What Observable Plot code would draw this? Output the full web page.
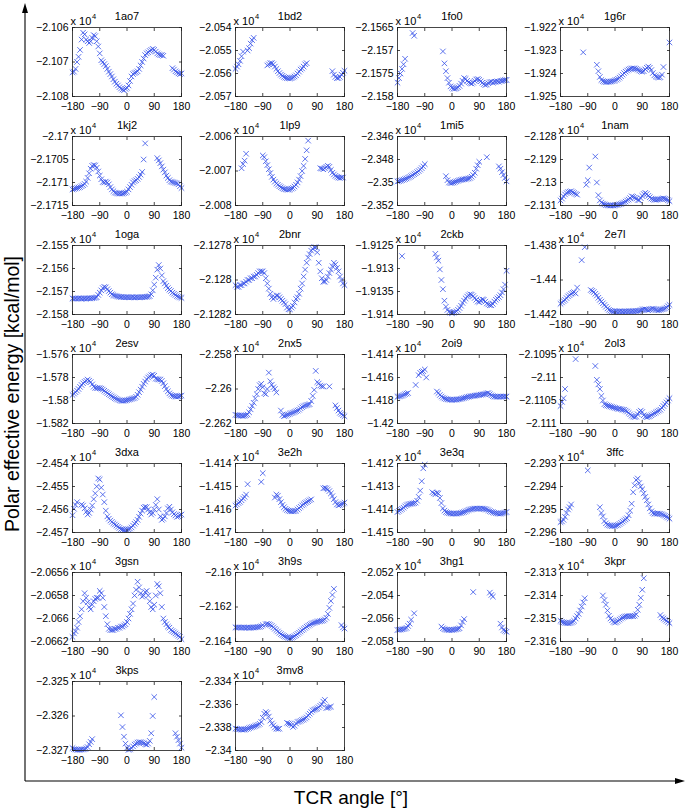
<!DOCTYPE html>
<html><head><meta charset="utf-8">
<script src="https://cdn.jsdelivr.net/npm/d3@7"></script>
<script src="https://cdn.jsdelivr.net/npm/@observablehq/plot@0.6"></script>
<style>
body{margin:0;background:#fff;}
#chart{position:relative;width:687px;height:810px;background:#fff;font-family:"Liberation Sans",Arial,sans-serif;overflow:hidden;}
.panel{position:absolute;}
#deco{position:absolute;left:0;top:0;}
</style></head><body>
<div id="chart">
<svg id="deco" width="687" height="810">
<line x1="25" y1="781" x2="25" y2="12" stroke="#000" stroke-width="1.1"/>
<path d="M25,3 L22,13 L28,13 Z" fill="#000"/>
<line x1="25" y1="781" x2="676" y2="781" stroke="#000" stroke-width="1.1"/>
<path d="M685,781 L675,778 L675,784 Z" fill="#000"/>
<text transform="translate(12,394) rotate(-90)" text-anchor="middle" dominant-baseline="central" font-size="19.5" font-family="Liberation Sans, Arial, sans-serif">Polar effective energy [kcal/mol]</text>
<text x="351" y="804" text-anchor="middle" font-size="19" font-family="Liberation Sans, Arial, sans-serif">TCR angle [°]</text>
</svg>
</div>
<script>
const _ = null;
const angles = [-180,-175,-170,-165,-160,-155,-150,-145,-140,-135,-130,-125,
 -120,-115,-110,-105,-100,-95,-90,-85,-80,-75,-70,-65,
 -60,-55,-50,-45,-40,-35,-30,-25,-20,-15,-10,-5,
 0,5,10,15,20,25,30,35,40,45,50,55,
 60,65,70,75,80,85,90,95,100,105,110,115,
 120,125,130,135,140,145,150,155,160,165,170,175,
 180];
const xTicks = [-180,-90,0,90,180];
const names = ["1ao7","1bd2","1fo0","1g6r","1kj2","1lp9","1mi5","1nam","1oga","2bnr","2ckb","2e7l","2esv","2nx5","2oi9","2ol3","3dxa","3e2h","3e3q","3ffc","3gsn","3h9s","3hg1","3kpr","3kps","3mv8"];
const yTicks = [
 [-2.108,-2.107,-2.106],
 [-2.057,-2.056,-2.055,-2.054],
 [-2.158,-2.1575,-2.157,-2.1565],
 [-1.925,-1.924,-1.923,-1.922],
 [-2.1715,-2.171,-2.1705,-2.17],
 [-2.008,-2.007,-2.006],
 [-2.352,-2.35,-2.348,-2.346],
 [-2.131,-2.13,-2.129,-2.128],
 [-2.158,-2.157,-2.156,-2.155],
 [-2.1282,-2.128,-2.1278],
 [-1.914,-1.9135,-1.913,-1.9125],
 [-1.442,-1.44,-1.438],
 [-1.582,-1.58,-1.578,-1.576],
 [-2.262,-2.26,-2.258],
 [-1.42,-1.418,-1.416,-1.414],
 [-2.111,-2.1105,-2.11,-2.1095],
 [-2.457,-2.456,-2.455,-2.454],
 [-1.417,-1.416,-1.415,-1.414],
 [-1.415,-1.414,-1.413,-1.412],
 [-2.296,-2.295,-2.294,-2.293],
 [-2.0662,-2.066,-2.0658,-2.0656],
 [-2.164,-2.162,-2.16],
 [-2.058,-2.056,-2.054,-2.052],
 [-2.316,-2.315,-2.314,-2.313],
 [-2.327,-2.326,-2.325],
 [-2.34,-2.338,-2.336,-2.334]
];

const e1ao7 = [-2.10730,-2.10728,-2.10720,-2.10700,-2.10685,-2.10665,-2.10635,-2.10615,-2.10620,-2.10635,-2.10640,-2.10645,
 -2.10640,-2.10630,-2.10622,-2.10625,-2.10640,-2.10655,-2.10675,-2.10695,-2.10700,-2.10706,-2.10712,-2.10720,
 -2.10728,-2.10735,-2.10742,-2.10750,-2.10757,-2.10763,-2.10768,-2.10773,-2.10777,-2.10780,-2.10782,-2.10778,
 -2.10775,-2.10768,-2.10755,-2.10742,-2.10735,-2.10732,-2.10730,-2.10727,-2.10720,-2.10710,-2.10700,-2.10690,
 -2.10680,-2.10675,-2.10672,-2.10668,-2.10665,-2.10662,-2.10665,-2.10670,-2.10675,-2.10678,-2.10680,-2.10680,
 -2.10682,_,_,_,_,_,-2.10718,-2.10722,-2.10727,-2.10730,-2.10733,-2.10735,
 -2.10733];
const e1bd2 = [-2.05580,-2.05570,-2.05560,-2.05545,-2.05525,-2.05505,_,_,-2.05500,-2.05490,-2.05470,-2.05455,
 -2.05445,_,_,_,_,_,_,_,_,-2.05565,-2.05560,-2.05555,
 -2.05555,-2.05560,-2.05570,-2.05580,-2.05590,-2.05598,-2.05605,-2.05610,-2.05615,-2.05618,-2.05620,-2.05621,
 -2.05621,-2.05620,-2.05617,-2.05613,-2.05608,-2.05600,-2.05592,-2.05583,-2.05578,-2.05570,-2.05560,-2.05555,
 _,_,_,_,_,_,_,_,_,_,_,_,
 _,_,_,_,-2.05590,-2.05605,-2.05615,-2.05620,-2.05620,-2.05615,-2.05605,-2.05597,
 -2.05588];
const e1fo0 = [-2.15770,-2.15760,-2.15750,-2.15740,-2.15730,-2.15718,_,_,_,_,-2.15662,-2.15668,
 _,_,_,_,_,_,_,_,_,_,_,_,
 _,_,_,_,_,_,-2.15702,-2.15728,-2.15745,-2.15760,-2.15770,-2.15778,
 -2.15781,-2.15783,-2.15783,-2.15782,-2.15780,-2.15777,-2.15772,-2.15766,-2.15760,-2.15762,-2.15766,-2.15769,
 -2.15771,-2.15772,-2.15770,-2.15766,-2.15763,-2.15762,-2.15764,-2.15767,-2.15770,-2.15773,-2.15775,-2.15774,
 -2.15771,-2.15769,-2.15768,-2.15770,-2.15768,-2.15768,-2.15767,-2.15768,-2.15766,-2.15766,-2.15765,-2.15764,
 -2.15764];
const e1g6r = [_,_,_,_,_,_,_,_,_,_,_,_,
 _,_,_,-1.92308,_,_,_,_,_,_,_,_,
 -1.92362,-1.92390,-1.92415,-1.92428,-1.92433,-1.92436,-1.92437,-1.92437,-1.92436,-1.92435,-1.92434,-1.92432,
 -1.92430,-1.92427,-1.92423,-1.92418,-1.92412,-1.92405,-1.92398,-1.92392,-1.92387,-1.92383,-1.92380,-1.92378,
 -1.92378,-1.92378,-1.92380,-1.92383,-1.92387,-1.92390,-1.92392,-1.92390,-1.92382,-1.92375,-1.92370,-1.92375,
 -1.92385,-1.92398,-1.92408,-1.92413,-1.92416,-1.92418,-1.92416,-1.92405,-1.92372,_,_,_,
 -1.92265];
const e1kj2 = [-2.17115,-2.17114,-2.17113,-2.17112,-2.17111,-2.17110,-2.17108,-2.17106,-2.17103,-2.17098,-2.17090,-2.17080,
 -2.17070,-2.17064,-2.17062,-2.17063,-2.17068,-2.17076,-2.17085,-2.17093,-2.17099,-2.17100,-2.17098,-2.17100,
 -2.17104,-2.17110,-2.17115,-2.17119,-2.17122,-2.17123,-2.17124,-2.17124,-2.17124,-2.17124,-2.17123,-2.17122,
 -2.17120,-2.17115,-2.17110,-2.17105,-2.17100,-2.17097,-2.17095,-2.17092,-2.17088,-2.17083,-2.17077,-2.17050,
 -2.17015,_,_,_,_,_,_,_,-2.17047,-2.17052,-2.17058,-2.17065,
 -2.17072,-2.17078,-2.17085,-2.17090,-2.17095,-2.17098,-2.17099,-2.17100,-2.17101,-2.17102,-2.17104,-2.17108,
 -2.17112];
const e1lp9 = [_,_,_,_,-2.00692,-2.00680,-2.00670,-2.00650,_,_,_,_,
 _,_,_,_,_,_,-2.00655,-2.00660,-2.00672,-2.00683,-2.00695,-2.00706,
 -2.00717,-2.00725,-2.00731,-2.00736,-2.00740,-2.00744,-2.00747,-2.00750,-2.00752,-2.00753,-2.00754,-2.00754,
 -2.00753,-2.00751,-2.00749,-2.00745,-2.00740,-2.00733,-2.00725,-2.00715,-2.00700,-2.00685,-2.00665,-2.00640,
 -2.00612,_,_,_,_,_,_,_,-2.00692,-2.00693,-2.00695,-2.00692,
 -2.00688,-2.00685,-2.00688,-2.00697,-2.00705,-2.00710,-2.00714,-2.00717,-2.00719,-2.00720,-2.00719,-2.00719,
 _];
const e1mi5 = [-2.34990,-2.34988,-2.34984,-2.34980,-2.34975,-2.34970,-2.34965,-2.34958,-2.34952,-2.34945,-2.34937,-2.34928,
 -2.34920,-2.34910,-2.34900,-2.34888,-2.34875,-2.34860,-2.34840,_,_,_,_,_,
 _,_,_,_,_,_,_,_,-2.34945,-2.34980,-2.35000,-2.35005,
 -2.35003,-2.35000,-2.34995,-2.34990,-2.34985,-2.34980,-2.34977,-2.34974,-2.34972,-2.34970,-2.34968,-2.34965,
 -2.34960,-2.34950,-2.34935,-2.34915,-2.34880,-2.34850,-2.34820,_,_,_,_,-2.34780,
 _,_,_,_,_,_,_,-2.34860,-2.34880,-2.34910,-2.34935,-2.34960,
 -2.34990];
const e1nam = [-2.13078,-2.13070,-2.13060,-2.13052,-2.13046,-2.13042,-2.13040,-2.13038,-2.13042,-2.13046,-2.13050,-2.13053,
 _,_,_,_,_,-2.13010,-2.12990,-2.12935,_,_,_,-2.12887,
 -2.13000,-2.13055,-2.13078,-2.13087,-2.13092,-2.13095,-2.13098,-2.13099,-2.13100,-2.13100,-2.13100,-2.13100,
 -2.13099,-2.13098,-2.13097,-2.13095,-2.13093,-2.13090,-2.13087,-2.13083,-2.13078,-2.13074,-2.13068,-2.13060,
 -2.13062,-2.13066,-2.13070,-2.13076,-2.13077,-2.13068,-2.13058,-2.13050,-2.13045,-2.13050,-2.13058,-2.13064,
 -2.13070,-2.13073,-2.13075,-2.13075,-2.13074,-2.13073,-2.13072,-2.13070,-2.13069,-2.13071,-2.13073,-2.13077,
 -2.13081];
const e1oga = [-2.15730,-2.15731,-2.15730,-2.15731,-2.15730,-2.15730,-2.15731,-2.15730,-2.15730,-2.15731,-2.15730,-2.15730,
 -2.15730,-2.15729,-2.15728,-2.15727,-2.15725,-2.15715,-2.15705,-2.15695,-2.15685,-2.15680,-2.15682,-2.15690,
 -2.15698,-2.15705,-2.15712,-2.15716,-2.15718,-2.15720,-2.15722,-2.15723,-2.15724,-2.15724,-2.15725,-2.15725,
 -2.15725,-2.15725,-2.15726,-2.15725,-2.15725,-2.15726,-2.15725,-2.15725,-2.15726,-2.15725,-2.15725,-2.15724,
 -2.15724,-2.15723,-2.15722,-2.15720,-2.15712,-2.15695,-2.15670,-2.15640,-2.15605,-2.15585,-2.15600,-2.15630,
 -2.15655,-2.15665,-2.15675,-2.15685,-2.15692,-2.15698,-2.15705,-2.15710,-2.15715,-2.15720,-2.15723,-2.15726,
 -2.15728];
const e2bnr = [-2.12803,-2.12804,-2.12804,-2.12803,-2.12803,-2.12802,-2.12802,-2.12801,-2.12800,-2.12800,-2.12799,-2.12799,
 -2.12798,-2.12798,-2.12797,-2.12796,-2.12795,-2.12795,-2.12795,-2.12796,-2.12799,-2.12802,-2.12805,-2.12808,
 -2.12810,-2.12811,-2.12810,-2.12809,-2.12809,-2.12810,-2.12811,-2.12812,-2.12813,-2.12814,-2.12816,-2.12817,
 -2.12817,-2.12816,-2.12815,-2.12813,-2.12811,-2.12810,-2.12808,-2.12805,-2.12802,-2.12798,-2.12794,-2.12790,
 -2.12787,-2.12785,-2.12783,-2.12782,-2.12781,-2.12781,-2.12784,-2.12790,-2.12795,-2.12799,-2.12801,-2.12801,
 -2.12800,-2.12798,-2.12796,-2.12794,-2.12792,-2.12790,-2.12791,-2.12793,-2.12795,-2.12798,-2.12800,-2.12802,
 -2.12803];
const e2ckb = [_,_,_,-1.91273,_,_,_,_,_,_,_,_,
 _,_,_,_,_,_,_,_,_,_,_,_,
 _,-1.91268,-1.91276,-1.91283,-1.91302,-1.91325,-1.91345,-1.91370,-1.91383,-1.91390,-1.91394,-1.91396,
 -1.91397,-1.91396,-1.91395,-1.91393,-1.91390,-1.91386,-1.91381,-1.91375,-1.91370,-1.91365,-1.91361,-1.91358,
 -1.91356,-1.91357,-1.91360,-1.91364,-1.91368,-1.91372,-1.91373,-1.91370,-1.91367,-1.91368,-1.91372,-1.91376,
 -1.91378,-1.91380,-1.91380,-1.91377,-1.91372,-1.91368,-1.91365,-1.91362,-1.91358,-1.91352,-1.91345,-1.91335,
 -1.91305];
const e2e7l = [-1.44138,-1.44130,-1.44122,-1.44115,-1.44105,-1.44095,-1.44088,-1.44080,-1.44074,-1.44070,-1.44078,-1.44044,
 _,_,-1.43885,_,-1.43810,_,_,_,-1.44058,-1.44063,-1.44070,-1.44080,
 -1.44090,-1.44103,-1.44115,-1.44125,-1.44135,-1.44145,-1.44155,-1.44165,-1.44173,-1.44178,-1.44181,-1.44182,
 -1.44182,-1.44182,-1.44183,-1.44182,-1.44182,-1.44183,-1.44182,-1.44182,-1.44182,-1.44181,-1.44182,-1.44181,
 -1.44181,-1.44180,-1.44180,-1.44179,-1.44178,-1.44175,-1.44172,-1.44170,-1.44170,-1.44172,-1.44175,-1.44172,
 -1.44168,-1.44166,-1.44168,-1.44172,-1.44175,-1.44175,-1.44172,-1.44170,-1.44168,-1.44165,-1.44160,-1.44152,
 -1.44144];
const e2esv = [-1.57952,-1.57940,-1.57928,-1.57915,-1.57900,-1.57882,-1.57865,-1.57850,-1.57838,-1.57828,-1.57818,-1.57828,
 -1.57840,-1.57860,-1.57880,-1.57890,-1.57892,-1.57892,-1.57893,-1.57897,-1.57905,-1.57915,-1.57925,-1.57935,
 -1.57945,-1.57955,-1.57964,-1.57972,-1.57980,-1.57986,-1.57992,-1.57998,-1.58002,-1.58003,-1.58002,-1.58000,
 -1.57997,-1.57993,-1.57990,-1.57986,-1.57982,-1.57978,-1.57968,-1.57950,-1.57928,-1.57905,-1.57880,-1.57855,
 -1.57835,-1.57815,-1.57800,-1.57790,-1.57780,-1.57775,-1.57785,-1.57810,-1.57815,-1.57817,-1.57818,-1.57830,
 -1.57850,-1.57875,-1.57900,-1.57920,-1.57938,-1.57950,-1.57958,-1.57962,-1.57965,-1.57966,-1.57964,-1.57961,
 -1.57958];
const e2nx5 = [-2.26150,-2.26152,-2.26153,-2.26154,-2.26155,-2.26156,-2.26155,-2.26152,-2.26148,-2.26135,-2.26118,-2.26098,
 -2.26080,-2.26055,-2.26030,-2.26000,-2.25978,-2.25970,-2.25990,-2.26025,-2.26030,-2.26000,-2.25905,-2.25955,
 -2.25975,-2.25990,-2.26000,-2.26020,_,_,-2.26125,-2.26150,-2.26157,-2.26155,-2.26150,-2.26147,
 -2.26143,-2.26140,-2.26137,-2.26133,-2.26129,-2.26125,-2.26120,-2.26112,-2.26105,-2.26100,-2.26096,-2.26093,
 -2.26091,-2.26088,-2.26070,-2.26040,-2.26005,-2.25895,-2.25960,-2.25968,-2.25980,-2.25985,-2.25985,_,
 _,_,-2.25985,_,_,_,-2.26095,-2.26110,-2.26125,-2.26138,-2.26145,-2.26152,
 -2.26158];
const e2oi9 = [-1.41768,-1.41765,-1.41762,-1.41758,-1.41752,-1.41745,-1.41740,-1.41735,_,_,_,_,
 -1.41665,_,-1.41580,-1.41560,-1.41550,-1.41545,-1.41530,-1.41600,_,_,_,_,
 _,_,-1.41722,-1.41735,-1.41752,-1.41765,-1.41775,-1.41782,-1.41787,-1.41790,-1.41792,-1.41793,
 -1.41794,-1.41794,-1.41793,-1.41792,-1.41790,-1.41788,-1.41785,-1.41782,-1.41778,-1.41774,-1.41770,-1.41767,
 -1.41764,-1.41762,-1.41760,-1.41758,-1.41756,-1.41754,-1.41752,-1.41750,-1.41748,-1.41745,-1.41742,-1.41738,
 -1.41736,-1.41745,-1.41755,-1.41762,-1.41766,-1.41767,-1.41767,-1.41767,-1.41766,-1.41766,-1.41765,-1.41765,
 -1.41766];
const e2ol3 = [-2.11062,-2.11053,-2.11045,-2.11025,_,_,_,_,_,_,-2.10960,_,
 _,_,_,_,_,_,_,_,_,_,_,-2.10975,
 -2.11005,-2.11015,-2.11025,-2.11040,-2.11050,-2.11058,-2.11060,-2.11061,-2.11062,-2.11063,-2.11064,-2.11065,
 -2.11066,-2.11067,-2.11068,-2.11068,-2.11069,-2.11070,-2.11070,-2.11072,-2.11074,-2.11077,-2.11080,-2.11083,
 -2.11085,-2.11086,-2.11085,-2.11080,-2.11075,-2.11072,-2.11075,-2.11082,-2.11085,-2.11086,-2.11085,-2.11084,
 -2.11082,-2.11080,-2.11078,-2.11076,-2.11074,-2.11072,-2.11070,-2.11066,-2.11062,-2.11058,-2.11054,-2.11050,
 -2.11045];
const e3dxa = [-2.45625,-2.45597,-2.45580,-2.45568,_,_,-2.45578,-2.45583,-2.45595,-2.45610,-2.45622,-2.45615,
 -2.45600,-2.45583,-2.45555,-2.45530,-2.45500,-2.45465,-2.45470,-2.45505,-2.45535,-2.45568,-2.45605,-2.45630,
 -2.45640,-2.45648,-2.45654,-2.45660,-2.45665,-2.45670,-2.45675,-2.45680,-2.45685,-2.45687,-2.45689,-2.45689,
 -2.45688,-2.45686,-2.45683,-2.45678,-2.45670,-2.45662,-2.45655,-2.45645,-2.45632,-2.45618,-2.45605,-2.45592,
 -2.45588,-2.45590,-2.45600,-2.45612,-2.45622,-2.45615,-2.45600,-2.45580,-2.45555,-2.45600,-2.45630,-2.45645,
 -2.45640,-2.45630,-2.45615,-2.45595,-2.45588,-2.45600,-2.45612,-2.45620,-2.45626,-2.45632,-2.45630,-2.45625,
 -2.45622];
const e3e2h = [-1.41583,-1.41578,-1.41572,-1.41567,-1.41560,-1.41552,-1.41545,-1.41535,-1.41490,_,_,_,
 _,_,_,_,_,-1.41480,-1.41442,_,_,_,_,_,
 _,_,-1.41548,-1.41535,-1.41540,-1.41555,-1.41568,-1.41580,-1.41590,-1.41597,-1.41602,-1.41605,
 -1.41607,-1.41608,-1.41608,-1.41607,-1.41605,-1.41600,-1.41594,-1.41588,-1.41582,-1.41577,-1.41572,-1.41568,
 -1.41564,-1.41560,-1.41556,_,_,_,_,_,_,_,-1.41508,-1.41506,
 -1.41508,-1.41513,-1.41520,-1.41530,-1.41542,-1.41555,-1.41568,-1.41578,-1.41582,-1.41580,-1.41577,-1.41574,
 -1.41570];
const e3e3q = [-1.41411,-1.41406,-1.41401,-1.41397,-1.41392,-1.41386,-1.41381,-1.41378,-1.41376,-1.41375,-1.41374,-1.41373,
 -1.41370,-1.41362,-1.41345,-1.41318,-1.41277,-1.41221,-1.41205,_,_,_,_,-1.41325,
 -1.41330,-1.41334,-1.41327,-1.41330,-1.41350,-1.41372,-1.41395,-1.41405,-1.41411,-1.41414,-1.41416,-1.41417,
 -1.41418,-1.41418,-1.41418,-1.41418,-1.41417,-1.41416,-1.41415,-1.41413,-1.41411,-1.41408,-1.41405,-1.41402,
 -1.41400,-1.41398,-1.41397,-1.41396,-1.41396,-1.41396,-1.41396,-1.41396,-1.41396,-1.41397,-1.41398,-1.41400,
 -1.41403,-1.41407,-1.41410,-1.41412,-1.41414,-1.41416,-1.41417,-1.41418,-1.41418,-1.41417,-1.41415,-1.41413,
 -1.41411];
const e3ffc = [-2.29555,-2.29552,-2.29545,-2.29532,-2.29515,-2.29500,-2.29490,-2.29478,_,_,_,_,
 _,_,_,_,_,_,-2.29330,_,_,_,_,_,
 _,_,-2.29490,-2.29515,-2.29530,-2.29550,-2.29560,-2.29566,-2.29569,-2.29571,-2.29572,-2.29572,
 -2.29571,-2.29569,-2.29567,-2.29563,-2.29558,-2.29553,-2.29548,-2.29543,-2.29538,-2.29525,-2.29505,-2.29475,
 -2.29425,-2.29395,-2.29372,-2.29365,-2.29385,-2.29400,-2.29412,-2.29430,-2.29445,-2.29460,-2.29478,-2.29495,
 -2.29508,-2.29515,-2.29518,-2.29518,-2.29518,-2.29518,-2.29519,-2.29521,-2.29524,-2.29527,-2.29531,-2.29535,
 -2.29540];
const e3gsn = [-2.06616,-2.06613,-2.06611,-2.06608,-2.06603,-2.06598,-2.06592,-2.06585,-2.06578,-2.06582,-2.06586,-2.06590,
 -2.06592,-2.06588,-2.06585,-2.06583,-2.06582,-2.06582,-2.06576,-2.06578,-2.06582,-2.06590,-2.06598,-2.06605,
 -2.06609,-2.06610,-2.06610,-2.06610,-2.06609,-2.06609,-2.06608,-2.06608,-2.06607,-2.06607,-2.06606,-2.06605,
 -2.06603,-2.06600,-2.06596,-2.06592,-2.06587,-2.06580,-2.06575,-2.06568,-2.06573,-2.06578,-2.06581,-2.06580,
 -2.06577,-2.06576,-2.06580,-2.06585,-2.06590,-2.06592,-2.06588,-2.06580,-2.06570,-2.06572,-2.06578,-2.06590,
 -2.06600,-2.06603,-2.06605,-2.06607,-2.06608,-2.06610,-2.06611,-2.06612,-2.06613,-2.06614,-2.06615,-2.06616,
 -2.06618];
const e3h9s = [-2.16318,-2.16319,-2.16318,-2.16319,-2.16320,-2.16319,-2.16320,-2.16320,-2.16319,-2.16320,-2.16320,-2.16319,
 -2.16319,-2.16318,-2.16317,-2.16316,-2.16315,-2.16312,-2.16305,_,-2.16300,-2.16298,-2.16300,-2.16304,
 -2.16310,-2.16318,-2.16326,-2.16334,-2.16342,-2.16350,-2.16357,-2.16363,-2.16368,-2.16372,-2.16376,-2.16379,
 -2.16380,-2.16378,-2.16374,-2.16369,-2.16363,-2.16356,-2.16349,-2.16342,-2.16335,-2.16328,-2.16321,-2.16314,
 -2.16308,-2.16303,-2.16298,-2.16294,-2.16291,-2.16288,-2.16286,-2.16284,-2.16282,-2.16280,-2.16278,-2.16272,
 -2.16262,-2.16240,-2.16205,-2.16165,-2.16130,-2.16095,_,_,_,_,-2.16305,-2.16318,
 -2.16325];
const e3hg1 = [-2.05700,-2.05698,-2.05696,-2.05694,-2.05692,-2.05688,-2.05682,-2.05665,-2.05645,-2.05610,_,-2.05555,
 _,_,_,_,_,_,_,_,_,_,_,_,
 _,_,_,_,_,-2.05670,-2.05685,-2.05693,-2.05697,-2.05699,-2.05700,-2.05700,
 -2.05699,-2.05698,-2.05696,-2.05693,-2.05690,-2.05685,-2.05660,-2.05630,-2.05605,_,_,_,
 _,_,-2.05370,_,_,_,_,_,_,_,_,_,
 _,-2.05375,-2.05395,-2.05410,_,_,_,_,-2.05645,-2.05678,-2.05700,-2.05708,
 -2.05715];
const e3kpr = [-2.31510,-2.31514,-2.31517,-2.31519,-2.31520,-2.31521,-2.31520,-2.31518,-2.31515,-2.31510,-2.31500,-2.31490,
 -2.31480,-2.31465,-2.31448,-2.31430,-2.31412,_,_,_,_,_,_,_,
 _,_,_,_,-2.31400,-2.31420,-2.31440,-2.31465,-2.31488,-2.31500,-2.31508,-2.31515,
 -2.31518,-2.31515,-2.31510,-2.31505,-2.31500,-2.31496,-2.31493,-2.31491,-2.31490,-2.31490,-2.31490,-2.31490,
 -2.31490,-2.31488,-2.31482,-2.31462,-2.31440,-2.31410,-2.31375,-2.31325,_,_,_,_,
 _,_,_,_,_,_,-2.31485,-2.31495,-2.31500,-2.31505,-2.31510,-2.31515,
 -2.31520];
const e3kps = [-2.32693,-2.32696,-2.32697,-2.32698,-2.32698,-2.32698,-2.32697,-2.32697,-2.32696,-2.32694,-2.32690,-2.32682,
 -2.32675,-2.32667,_,_,_,_,_,_,_,_,_,_,
 _,_,_,_,_,_,_,_,-2.32598,-2.32632,-2.32660,-2.32680,
 -2.32692,-2.32698,-2.32697,-2.32693,-2.32688,-2.32683,-2.32680,-2.32677,-2.32676,-2.32676,-2.32677,-2.32679,
 -2.32682,-2.32683,-2.32680,-2.32672,-2.32650,-2.32600,-2.32545,_,_,_,_,_,
 _,_,_,_,_,_,_,_,-2.32650,-2.32660,-2.32670,-2.32680,
 -2.32692];
const e3mv8 = [-2.33810,-2.33812,-2.33815,-2.33816,-2.33818,-2.33819,-2.33818,-2.33815,-2.33810,-2.33805,-2.33800,-2.33796,
 -2.33792,-2.33787,-2.33782,-2.33776,-2.33768,-2.33752,-2.33715,-2.33680,-2.33665,-2.33675,-2.33705,-2.33740,
 -2.33765,-2.33782,-2.33800,-2.33810,-2.33812,-2.33810,_,_,_,_,-2.33760,-2.33765,
 -2.33770,-2.33780,-2.33795,-2.33785,-2.33765,-2.33752,-2.33748,-2.33742,-2.33735,-2.33730,-2.33722,-2.33712,
 -2.33695,-2.33680,-2.33665,-2.33652,-2.33645,-2.33640,-2.33635,-2.33625,-2.33612,-2.33600,-2.33575,-2.33560,
 -2.33630,-2.33628,-2.33622,-2.33618,_,_,_,_,_,_,_,_,
 _];

const series = [e1ao7,e1bd2,e1fo0,e1g6r,e1kj2,e1lp9,e1mi5,e1nam,e1oga,e2bnr,e2ckb,e2e7l,e2esv,e2nx5,e2oi9,e2ol3,e3dxa,e3e2h,e3e3q,e3ffc,e3gsn,e3h9s,e3hg1,e3kpr,e3kps,e3mv8];

const colLeft = [72, 234.7, 397.3, 560];
const rowTop0 = 27, rowStep = 109;
const W = 109, H = 69;
const mL = 52, mR = 6, mT = 26, mB = 20;
const fmt = d => d < 0 ? "\u2212" + String(-d) : String(d);
const chart = document.getElementById("chart");

series.forEach((vals, i) => {
  const r = Math.floor(i / 4), c = i % 4;
  const data = angles.map((a, k) => ({a, v: vals[k]})).filter(d => d.v != null);
  const yt = yTicks[i];
  const plot = Plot.plot({
    width: W + mL + mR, height: H + mT + mB,
    marginLeft: mL, marginRight: mR, marginTop: mT, marginBottom: mB,
    style: {background: "transparent", fontFamily: "'Liberation Sans', Arial, sans-serif", fontSize: "10.5px", color: "#000", overflow: "visible"},
    x: {domain: [-180, 180], label: null},
    y: {domain: [yt[0], yt[yt.length - 1]], label: null},
    marks: [
      Plot.dot(data, {x: "a", y: "v", symbol: "times", r: 2.6, stroke: "#3550e8", strokeWidth: 0.8}),
      Plot.frame({stroke: "#1a1a1a", strokeWidth: 0.8}),
      Plot.axisX(xTicks, {anchor: "bottom", tickSize: -3, fill: "none", stroke: "#1a1a1a", strokeWidth: 0.8}),
      Plot.axisX(xTicks, {anchor: "top", tickSize: -3, fill: "none", stroke: "#1a1a1a", strokeWidth: 0.8}),
      Plot.axisY(yt, {anchor: "left", tickSize: -3, fill: "none", stroke: "#1a1a1a", strokeWidth: 0.8}),
      Plot.axisY(yt, {anchor: "right", tickSize: -3, fill: "none", stroke: "#1a1a1a", strokeWidth: 0.8}),
      Plot.axisX(xTicks, {anchor: "bottom", tickSize: 0, tickPadding: 6, tickFormat: fmt, label: null}),
      Plot.axisY(yt, {anchor: "left", tickSize: 0, tickPadding: 4, tickFormat: fmt, label: null}),
      Plot.text([names[i]], {frameAnchor: "top", lineAnchor: "bottom", dy: -8, fontSize: 11}),
      Plot.text(["x 10"], {frameAnchor: "top-left", textAnchor: "start", lineAnchor: "bottom", dy: -3, dx: -2, fontSize: 11}),
      Plot.text(["4"], {frameAnchor: "top-left", textAnchor: "start", lineAnchor: "bottom", dy: -9, dx: 19.5, fontSize: 7.5})
    ]
  });
  const div = document.createElement("div");
  div.className = "panel";
  div.style.left = (colLeft[c] - mL) + "px";
  div.style.top = (rowTop0 + r * rowStep - mT) + "px";
  div.appendChild(plot);
  chart.appendChild(div);
});
</script>
</body></html>
